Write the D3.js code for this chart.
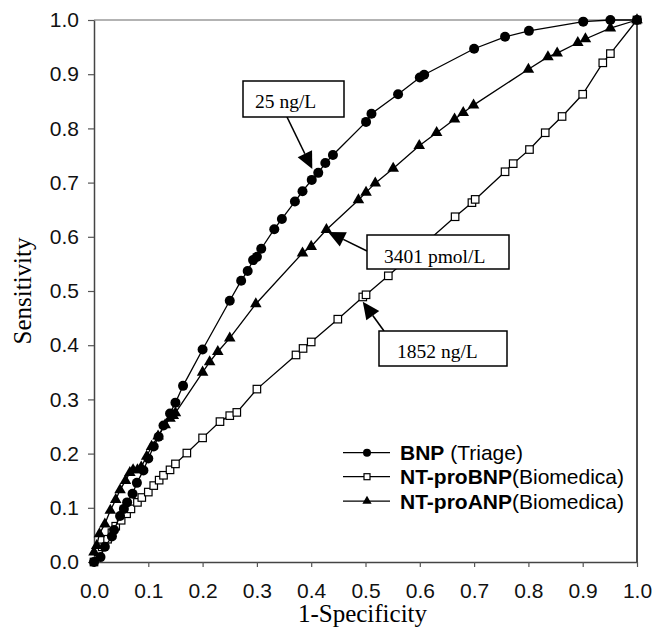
<!DOCTYPE html>
<html>
<head>
<meta charset="utf-8">
<script src="https://cdn.jsdelivr.net/npm/d3@7"></script>
<style>
    body { margin: 0; background: #fff; }
    svg { display: block; }
</style>
</head>
<body>
<svg width="655" height="633"></svg>
<script>
// ROC curves: 1-specificity (x) vs sensitivity (y)
const bnpX = [0, 0.012, 0.020, 0.033, 0.037, 0.048, 0.055, 0.061, 0.071, 0.079, 0.091, 0.100, 0.110, 0.119, 0.128, 0.140, 0.150, 0.164, 0.200, 0.250, 0.271, 0.283, 0.293, 0.300, 0.308, 0.332, 0.346, 0.370, 0.384, 0.401, 0.413, 0.426, 0.440, 0.501, 0.511, 0.560, 0.600, 0.608, 0.700, 0.757, 0.801, 0.901, 0.951, 1.0];
const bnpY = [0, 0.009, 0.028, 0.047, 0.059, 0.085, 0.098, 0.110, 0.126, 0.146, 0.169, 0.191, 0.213, 0.231, 0.252, 0.274, 0.294, 0.325, 0.392, 0.482, 0.519, 0.537, 0.557, 0.563, 0.578, 0.614, 0.633, 0.665, 0.684, 0.705, 0.718, 0.736, 0.751, 0.812, 0.827, 0.863, 0.894, 0.899, 0.947, 0.969, 0.980, 0.997, 1.0, 1.0];

const ntproBnpX = [0, 0.008, 0.015, 0.025, 0.033, 0.040, 0.050, 0.060, 0.068, 0.080, 0.088, 0.100, 0.110, 0.120, 0.128, 0.140, 0.150, 0.171, 0.200, 0.232, 0.250, 0.263, 0.300, 0.372, 0.385, 0.400, 0.449, 0.495, 0.501, 0.542, 0.665, 0.696, 0.702, 0.757, 0.772, 0.802, 0.831, 0.862, 0.900, 0.937, 0.951, 1.0];
const ntproBnpY = [0, 0.019, 0.028, 0.042, 0.054, 0.066, 0.077, 0.089, 0.098, 0.110, 0.119, 0.129, 0.141, 0.151, 0.160, 0.170, 0.181, 0.201, 0.229, 0.259, 0.270, 0.276, 0.319, 0.382, 0.394, 0.406, 0.448, 0.489, 0.493, 0.528, 0.637, 0.663, 0.669, 0.720, 0.735, 0.761, 0.792, 0.822, 0.863, 0.921, 0.938, 1.0];

const ntproAnpX = [0, 0.005, 0.010, 0.020, 0.030, 0.040, 0.048, 0.058, 0.066, 0.072, 0.080, 0.087, 0.097, 0.106, 0.118, 0.131, 0.140, 0.146, 0.150, 0.200, 0.213, 0.228, 0.250, 0.298, 0.384, 0.400, 0.428, 0.487, 0.501, 0.518, 0.551, 0.599, 0.631, 0.664, 0.680, 0.699, 0.800, 0.836, 0.853, 0.891, 0.905, 0.951, 1.0];
const ntproAnpY = [0.018, 0.030, 0.052, 0.070, 0.095, 0.115, 0.133, 0.150, 0.165, 0.170, 0.170, 0.175, 0.195, 0.213, 0.232, 0.253, 0.265, 0.270, 0.275, 0.350, 0.369, 0.388, 0.413, 0.476, 0.570, 0.582, 0.613, 0.668, 0.682, 0.699, 0.726, 0.768, 0.792, 0.817, 0.829, 0.843, 0.909, 0.932, 0.939, 0.958, 0.965, 0.985, 1.0];

const tickValues = [0, 0.1, 0.2, 0.3, 0.4, 0.5, 0.6, 0.7, 0.8, 0.9, 1.0];

const legendNames = ['BNP', 'NT-proBNP', 'NT-proANP'];
const legendSubs = [' (Triage)', '(Biomedica)', '(Biomedica)'];

// cut-off annotations: label + point on the curve the arrow points to
const noteLabels = ['25 ng/L', '3401 pmol/L', '1852 ng/L'];
const noteTargetX = [0.402, 0.431, 0.495];
const noteTargetY = [0.725, 0.609, 0.480];

const width = 655, height = 633;
const margin = { top: 20, right: 18, bottom: 71, left: 94 };
const svg = d3.select('svg');

const x = d3.scaleLinear().domain([0, 1]).range([margin.left, width - margin.right]);
const y = d3.scaleLinear().domain([0, 1]).range([height - margin.bottom, margin.top]);

const sansFont = '"Liberation Sans", Arial, sans-serif';
const serifFont = '"Liberation Serif", "Times New Roman", serif';

// frame: gray top, black right
svg.append('line')
    .attr('x1', x(0)).attr('x2', x(1))
    .attr('y1', y(1)).attr('y2', y(1))
    .attr('stroke', '#9a9a9a').attr('stroke-width', 1.5);
svg.append('line')
    .attr('x1', x(1)).attr('x2', x(1))
    .attr('y1', y(1)).attr('y2', y(0))
    .attr('stroke', '#111').attr('stroke-width', 1.5);

const fmt = d3.format('.1f');
const yAxis = svg.append('g')
    .attr('transform', `translate(${x(0)},0)`)
    .call(d3.axisLeft(y).tickValues(tickValues).tickFormat(fmt).tickSize(6).tickPadding(9).tickSizeOuter(0));
const xAxis = svg.append('g')
    .attr('transform', `translate(0,${y(0)})`)
    .call(d3.axisBottom(x).tickValues(tickValues).tickFormat(fmt).tickSize(5).tickPadding(16).tickSizeOuter(0));

[yAxis, xAxis].forEach((g) => {
    g.select('.domain').attr('stroke', '#444').attr('stroke-width', 1.5);
    g.selectAll('.tick line').attr('stroke', '#555').attr('stroke-width', 1.2);
    g.selectAll('.tick text')
        .attr('fill', '#111')
        .style('font-family', sansFont)
        .style('font-size', '21px');
});

// axis titles
svg.append('text')
    .attr('x', x(0.5) - 3).attr('y', 622)
    .attr('text-anchor', 'middle')
    .style('font-family', serifFont).style('font-size', '25px')
    .text('1-Specificity');
svg.append('text')
    .attr('transform', `translate(31,${y(0.5)}) rotate(-90)`)
    .attr('text-anchor', 'middle')
    .style('font-family', serifFont).style('font-size', '25px')
    .text('Sensitivity');

const line = d3.line().x((d) => x(d[0])).y((d) => y(d[1]));

const series = [
    { pts: d3.zip(ntproBnpX, ntproBnpY), marker: 'square' },
    { pts: d3.zip(ntproAnpX, ntproAnpY), marker: 'triangle' },
    { pts: d3.zip(bnpX, bnpY), marker: 'circle' },
];

function drawMarker(g, kind, size) {
    if (kind === 'circle') {
        g.append('circle').attr('r', size * 0.5).attr('fill', '#000');
    } else if (kind === 'square') {
        const s = size * 0.75;
        g.append('rect')
            .attr('x', -s / 2).attr('y', -s / 2)
            .attr('width', s).attr('height', s)
            .attr('fill', '#fff').attr('stroke', '#000').attr('stroke-width', 1.2);
    } else {
        g.append('path')
            .attr('d', d3.symbol(d3.symbolTriangle, size * size * 0.58)())
            .attr('fill', '#000');
    }
}

series.forEach((s) => {
    svg.append('path')
        .attr('d', line(s.pts))
        .attr('fill', 'none')
        .attr('stroke', '#000')
        .attr('stroke-width', 1.3);
    s.pts.forEach((p) => {
        const g = svg.append('g').attr('transform', `translate(${x(p[0])},${y(p[1])})`);
        drawMarker(g, s.marker, 10);
    });
});

// annotations
const noteBoxes = [
    { x0: 243, y0: 81, w: 101, h: 36, tx: 255, ty: 108, ax: 287, ay: 117 },
    { x0: 367, y0: 235, w: 142, h: 34, tx: 384, ty: 263, ax: 367, ay: 251 },
    { x0: 379, y0: 331, w: 128, h: 35, tx: 397, ty: 358, ax: 384, ay: 331 },
];

noteLabels.forEach((label, i) => {
    const b = noteBoxes[i];
    const tx = x(noteTargetX[i]), ty = y(noteTargetY[i]);
    const ang = Math.atan2(ty - b.ay, tx - b.ax);
    const headLen = 17, headW = 8;
    const bx = tx - headLen * Math.cos(ang), by = ty - headLen * Math.sin(ang);
    svg.append('line')
        .attr('x1', b.ax).attr('y1', b.ay)
        .attr('x2', bx).attr('y2', by)
        .attr('stroke', '#000').attr('stroke-width', 1.6);
    const px = -Math.sin(ang) * headW, py = Math.cos(ang) * headW;
    svg.append('path')
        .attr('d', `M${tx},${ty}L${bx + px},${by + py}L${bx - px},${by - py}Z`)
        .attr('fill', '#000');
    svg.append('rect')
        .attr('x', b.x0).attr('y', b.y0)
        .attr('width', b.w).attr('height', b.h)
        .attr('fill', '#fff').attr('stroke', '#000').attr('stroke-width', 1.5);
    svg.append('text')
        .attr('x', b.tx).attr('y', b.ty)
        .style('font-family', serifFont).style('font-size', '19.5px')
        .text(label);
});

// legend
const legendMarkers = ['circle', 'square', 'triangle'];
const legendY = [452.7, 476.7, 501.2];
legendNames.forEach((name, i) => {
    const g = svg.append('g').attr('transform', `translate(0,${legendY[i]})`);
    g.append('line')
        .attr('x1', 343).attr('x2', 390)
        .attr('stroke', '#000').attr('stroke-width', 1.3);
    const m = g.append('g').attr('transform', 'translate(367,0)');
    drawMarker(m, legendMarkers[i], 8);
    const t = g.append('text')
        .attr('x', 400).attr('y', 7.5)
        .style('font-family', sansFont).style('font-size', '21px');
    t.append('tspan').style('font-weight', 'bold').text(name);
    t.append('tspan').text(legendSubs[i]);
});
</script>
</body>
</html>
